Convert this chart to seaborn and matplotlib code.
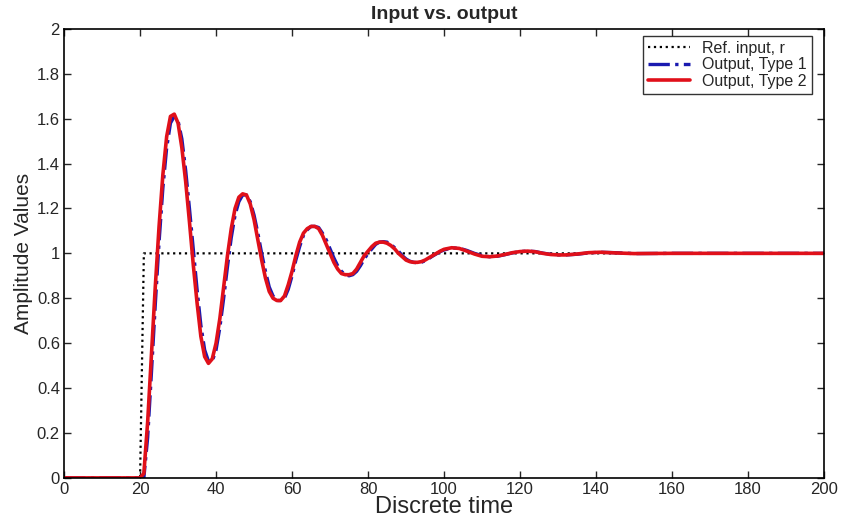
import matplotlib
matplotlib.use("Agg")
import matplotlib.pyplot as plt
import seaborn as sns
import numpy as np

# reference input (unit step at t = 20)
ref_t = [0, 20, 21, 200]
ref_r = [0, 0, 1, 1]

# time samples
t = [0, 10, 20, 21, 22, 23, 24, 25, 26, 27, 28, 29, 30, 31, 32, 33, 34, 35, 36, 37, 38, 39,
     40, 41, 42, 43, 44, 45, 46, 47, 48, 49, 50, 51, 52, 53, 54, 55, 56, 57, 58, 59,
     60, 61, 62, 63, 64, 65, 66, 67, 68, 69, 70, 71, 72, 73, 74, 75, 76, 77, 78, 79,
     80, 81, 82, 83, 84, 85, 86, 87, 88, 89, 90, 91, 92, 93, 94, 95, 96, 97, 98, 99,
     100, 102, 104, 106, 108, 110, 112, 114, 116, 118, 120, 122, 124, 126, 128, 130,
     132, 135, 138, 141, 145, 150, 160, 200]

type1 = [0, 0, 0, 0.0, 0.18, 0.47, 0.77, 1.05, 1.29, 1.47, 1.58, 1.61, 1.59, 1.51, 1.37, 1.20,
         1.02, 0.84, 0.68, 0.57, 0.52, 0.52,
         0.57, 0.67, 0.80, 0.94, 1.07, 1.17, 1.23, 1.26, 1.26, 1.23, 1.17, 1.09, 1.00, 0.92,
         0.85, 0.81, 0.79, 0.79, 0.80, 0.84,
         0.90, 0.97, 1.03, 1.08, 1.105, 1.12, 1.12, 1.115, 1.09, 1.06, 1.02, 0.98, 0.945, 0.92,
         0.905, 0.90, 0.905, 0.92, 0.945, 0.975,
         1.00, 1.02, 1.04, 1.05, 1.052, 1.05, 1.04, 1.025, 1.01, 0.99, 0.975, 0.965, 0.96, 0.958,
         0.96, 0.967, 0.977, 0.988, 0.998, 1.008,
         1.015, 1.024, 1.023, 1.013, 1.0, 0.99, 0.985, 0.987, 0.994, 1.002, 1.008, 1.01, 1.008,
         1.001, 0.996, 0.993,
         0.993, 0.996, 1.002, 1.005, 1.003, 0.999, 1.0, 1.0]

type2 = [0, 0, 0, 0.02, 0.25, 0.55, 0.85, 1.12, 1.35, 1.52, 1.61, 1.62, 1.58, 1.47, 1.32, 1.14,
         0.95, 0.78, 0.63, 0.54, 0.51, 0.53,
         0.60, 0.71, 0.85, 0.99, 1.11, 1.20, 1.25, 1.265, 1.26, 1.22, 1.15, 1.06, 0.97, 0.89,
         0.83, 0.80, 0.79, 0.79, 0.81, 0.86,
         0.92, 0.99, 1.05, 1.09, 1.11, 1.12, 1.12, 1.11, 1.08, 1.04, 1.00, 0.96, 0.93, 0.91,
         0.905, 0.905, 0.91, 0.93, 0.96, 0.99,
         1.01, 1.03, 1.045, 1.05, 1.05, 1.045, 1.035, 1.02, 1.00, 0.985, 0.97, 0.963, 0.96, 0.96,
         0.963, 0.97, 0.98, 0.99, 1.00, 1.01,
         1.018, 1.025, 1.022, 1.01, 0.997, 0.987, 0.985, 0.988, 0.995, 1.003, 1.008, 1.01, 1.007,
         1.0, 0.995, 0.993,
         0.993, 0.997, 1.003, 1.005, 1.002, 0.999, 1.0, 1.0]

sns.set_style("ticks")
plt.rcParams['font.family'] = ['Liberation Sans', 'DejaVu Sans']
plt.rcParams['xtick.direction'] = 'in'
plt.rcParams['ytick.direction'] = 'in'

fig = plt.figure(figsize=(8.43, 5.24), dpi=100)
ax = fig.add_axes([0.076, 0.088, 0.9015, 0.857])

sns.lineplot(x=ref_t, y=ref_r, ax=ax, color='black', linestyle=':', linewidth=1.6,
             label='Ref. input, r')
sns.lineplot(x=t, y=type1, ax=ax, color='#1a1ab0', linestyle='-.', linewidth=2.4,
             label='Output, Type 1')
sns.lineplot(x=t, y=type2, ax=ax, color='#e0101a', linestyle='-', linewidth=2.6,
             label='Output, Type 2')

ax.set_xlim(0, 200)
ax.set_ylim(0, 2)
ax.set_xticks(np.arange(0, 201, 20))
ax.set_yticks(np.arange(0, 2.01, 0.2))
ax.set_yticklabels(['0', '0.2', '0.4', '0.6', '0.8', '1', '1.2', '1.4', '1.6', '1.8', '2'])
ax.tick_params(axis='both', labelsize=12, top=True, right=True, length=5, width=1, pad=3)
for s in ax.spines.values():
    s.set_linewidth(1.2)
    s.set_color('black')

ax.set_title('Input vs. output', fontsize=14, fontweight='bold', pad=7)
ax.set_xlabel('Discrete time', fontsize=17, labelpad=-1)
ax.set_ylabel('Amplitude Values', fontsize=15, labelpad=3)

leg = ax.legend(loc='upper right', bbox_to_anchor=(0.984, 0.984), borderaxespad=0,
                fontsize=11.5, frameon=True, fancybox=False, edgecolor='black',
                borderpad=0.3, labelspacing=0.1, handlelength=2.6)
leg.get_frame().set_linewidth(1.0)

fig.savefig('out.png', dpi=100)
